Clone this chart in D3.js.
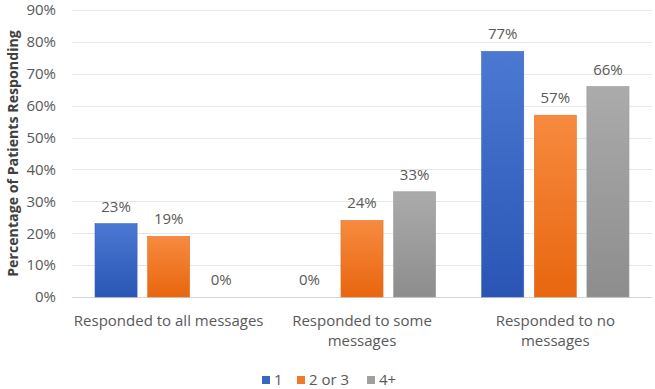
<!DOCTYPE html>
<html>
<head>
<meta charset="utf-8">
<script src="https://cdn.jsdelivr.net/npm/d3@7"></script>
<style>
  body { margin: 0; background: #fff; }
  text { font-family: "Open Sans", "DejaVu Sans", sans-serif; }
</style>
</head>
<body>
<svg id="chart" width="655" height="389"></svg>
<script>
// data
const categories = ["Responded to all messages", "Responded to some messages", "Responded to no messages"];
const categoryLines = [["Responded to all messages"], ["Responded to some", "messages"], ["Responded to no", "messages"]];
const seriesNames = ["1", "2 or 3", "4+"];
const series1 = [23, 0, 77];
const series2 = [19, 24, 57];
const series3 = [0, 33, 66];
const yTicks = [0, 10, 20, 30, 40, 50, 60, 70, 80, 90];

const svg = d3.select("#chart");
const margin = { top: 10, right: 3, bottom: 92, left: 72 };
const W = 655, H = 389;
const innerW = W - margin.left - margin.right;
const innerH = H - margin.top - margin.bottom;
const FS = "15px";

const data = categories.map((c, i) => ({
  cat: c,
  vals: [series1[i], series2[i], series3[i]].map((v, k) => ({ key: seriesNames[k], v: v }))
}));

// gradients like the office chart
const grads = [
  { id: "g0", top: "#4b79d2", bot: "#2a55b5" },
  { id: "g1", top: "#f78a3f", bot: "#e8660f" },
  { id: "g2", top: "#ababab", bot: "#8d8d8d" }
];
const defs = svg.append("defs");
grads.forEach(gr => {
  const lg = defs.append("linearGradient").attr("id", gr.id)
    .attr("x1", 0).attr("y1", 0).attr("x2", 0).attr("y2", 1);
  lg.append("stop").attr("offset", "0%").attr("stop-color", gr.top);
  lg.append("stop").attr("offset", "100%").attr("stop-color", gr.bot);
});
const strokes = ["#3a63b8", "#e0742a", "#9a9a9a"];
const legendFill = ["#3a66c4", "#f07a2a", "#a0a0a0"];

const g = svg.append("g").attr("transform", `translate(${margin.left},${margin.top})`);

const x0 = d3.scaleBand().domain(categories).range([0, innerW]).paddingInner(0).paddingOuter(0);
const x1 = d3.scaleBand().domain(seriesNames).range([23, x0.bandwidth() - 23]).paddingInner(0.2).paddingOuter(0);
const y = d3.scaleLinear().domain([0, 90]).range([innerH, 0]);

// gridlines
g.append("g").selectAll("line")
  .data(yTicks)
  .enter().append("line")
  .attr("x1", 0).attr("x2", innerW)
  .attr("y1", d => Math.round(y(d)) + 0.5).attr("y2", d => Math.round(y(d)) + 0.5)
  .attr("stroke", d => d === 0 ? "#d6d6d6" : "#e6e6e6")
  .attr("stroke-width", 1);

// y tick labels
const yAxis = g.append("g")
  .call(d3.axisLeft(y).tickValues(yTicks).tickFormat(d => d + "%").tickSize(0).tickPadding(16));
yAxis.select(".domain").remove();
yAxis.selectAll("text")
  .style("font-size", FS)
  .style("font-family", "'Open Sans', sans-serif")
  .attr("fill", "#595959");

// bars
const groups = g.selectAll(".grp")
  .data(data)
  .enter().append("g")
  .attr("transform", d => `translate(${x0(d.cat)},0)`);

groups.selectAll("rect")
  .data(d => d.vals)
  .enter().append("rect")
  .attr("x", d => x1(d.key))
  .attr("y", d => y(d.v))
  .attr("width", x1.bandwidth())
  .attr("height", d => innerH - y(d.v))
  .attr("fill", (d, i) => `url(#g${i})`)
  .attr("stroke", (d, i) => d.v > 0 ? strokes[i] : "none")
  .attr("stroke-width", 0.6);

// value labels
groups.selectAll(".lbl")
  .data(d => d.vals)
  .enter().append("text")
  .attr("x", d => x1(d.key) + x1.bandwidth() / 2)
  .attr("y", d => y(d.v) - 12)
  .attr("text-anchor", "middle")
  .style("font-size", FS)
  .attr("fill", "#595959")
  .text(d => d.v + "%");

// category labels
const catG = g.selectAll(".cat")
  .data(categoryLines)
  .enter().append("text")
  .attr("text-anchor", "middle")
  .attr("x", (d, i) => x0(categories[i]) + x0.bandwidth() / 2)
  .attr("y", innerH + 29)
  .style("font-size", FS)
  .attr("fill", "#595959");
catG.selectAll("tspan")
  .data(d => d)
  .enter().append("tspan")
  .attr("x", function () { return d3.select(this.parentNode).attr("x"); })
  .attr("dy", (d, i) => i === 0 ? 0 : 20)
  .text(d => d);

// y axis title
svg.append("text")
  .attr("transform", "rotate(-90)")
  .attr("x", -(margin.top + innerH / 2))
  .attr("y", 18)
  .attr("text-anchor", "middle")
  .style("font-size", "14.2px")
  .style("font-weight", "bold")
  .attr("fill", "#404040")
  .text("Percentage of Patients Responding");

// legend
const legendX = [262, 297, 367];
const legend = svg.append("g");
seriesNames.forEach((s, i) => {
  legend.append("rect")
    .attr("x", legendX[i]).attr("y", 376)
    .attr("width", 8).attr("height", 8)
    .attr("fill", legendFill[i]);
  legend.append("text")
    .attr("x", legendX[i] + 12).attr("y", 385)
    .style("font-size", FS)
    .attr("fill", "#595959")
    .text(s);
});
</script>
</body>
</html>
